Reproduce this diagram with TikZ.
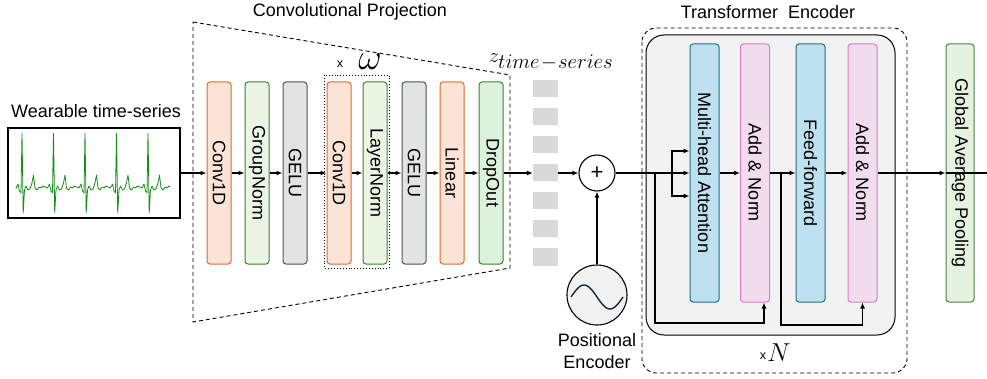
\documentclass[tikz,border=0pt]{standalone}
\usepackage{fontspec}
\setmainfont{Liberation Sans}
\usepackage{amsmath,amssymb}
\usetikzlibrary{arrows.meta,calc,shapes}
\definecolor{orfill}{HTML}{FBE3D6}
\definecolor{ordraw}{HTML}{E06A2C}
\definecolor{grfill}{HTML}{EAF5E4}
\definecolor{grdraw}{HTML}{3F7F32}
\definecolor{dofill}{HTML}{DDF2DA}
\definecolor{gyfill}{HTML}{E3E3E3}
\definecolor{gydraw}{HTML}{425F42}
\definecolor{blfill}{HTML}{BDE1EE}
\definecolor{bldraw}{HTML}{1F6F8B}
\definecolor{pkfill}{HTML}{F2DDEF}
\definecolor{pkdraw}{HTML}{D77CCD}
\definecolor{gapfill}{HTML}{E6F2E0}
\definecolor{gapdraw}{HTML}{4F7F4A}
\definecolor{tokgray}{HTML}{D9D9D9}
\definecolor{tfgray}{HTML}{F2F2F2}
\definecolor{ecggreen}{HTML}{1A8C1A}
\definecolor{wavenavy}{HTML}{0E2841}

\begin{document}
\begin{tikzpicture}[x=1pt,y=-1pt,
    >={Latex[length=6pt,width=5pt]},
    every node/.style={font=\fontsize{18}{22}\selectfont},
    block/.style={draw,rounded corners=3pt,minimum width=24pt,minimum height=182pt,inner sep=1pt,line width=1pt},
    convblk/.style={block,fill=orfill,draw=ordraw},
    normblk/.style={block,fill=grfill,draw=grdraw},
    gelublk/.style={block,fill=gyfill,draw=gydraw},
    tfblk/.style={block,minimum width=29pt,minimum height=258pt},
    token/.style={fill=tokgray,minimum width=25pt,minimum height=17pt,inner sep=0pt},
    link/.style={->,line width=1.2pt},
    frame/.style={line width=0.9pt,dash pattern=on 4pt off 3pt},
    ecg/.style={draw=ecggreen,line width=0.8pt,line join=round},
    small/.style={font=\fontsize{12.5}{14}\selectfont}]
  \useasboundingbox (0,0) rectangle (987,379);

  % input signal
  \node (sigtitle) at (96,111) {Wearable time-series};
  \node[draw,line width=1.6pt,minimum width=172pt,minimum height=90pt,inner sep=0pt] (sig) at (94,173) {};
  \draw[ecg] (17,188) \foreach \r in {22,53.5,85,116.5,148} {
      -- ({\r-6},188) -- ({\r-4},184) -- ({\r-2.5},191) -- ({\r-1},193) -- (\r,133) -- ({\r+1.2},213)
      -- ({\r+2.5},190) -- ({\r+4},186) -- ({\r+6},190) -- ({\r+8},189) -- ({\r+10},183) -- ({\r+11.5},175)
      -- ({\r+13},188) -- ({\r+15},190) -- ({\r+17},187) -- ({\r+19},188) -- ({\r+21},186)
    } -- (170,187);

  % convolutional projection
  \node (projtitle) at (350,12) {Convolutional Projection};
  \draw[frame] (193,22) -- (510,75) -- (510,268) -- (193,322) -- cycle;
  \draw[line width=0.9pt,dotted] (324,75) rectangle (389,268);
  \node[small] (wx) at (340,64.5) {x};
  \node[font=\fontsize{24.88}{26}\selectfont] (omega) at (370,62) {\scalebox{1.45}{$\omega$}};
  \node[convblk] (conv1) at (219,173) {\rotatebox{-90}{Conv1D}};
  \node[normblk] (gnorm) at (257,173) {\rotatebox{-90}{GroupNorm}};
  \node[gelublk] (gelu1) at (295,173) {\rotatebox{-90}{GELU}};
  \node[convblk] (conv2) at (339,173) {\rotatebox{-90}{Conv1D}};
  \node[normblk] (lnorm) at (375,173) {\rotatebox{-90}{LayerNorm}};
  \node[gelublk] (gelu2) at (414,173) {\rotatebox{-90}{GELU}};
  \node[convblk] (linear) at (452,173) {\rotatebox{-90}{Linear}};
  \node[normblk,fill=dofill] (dropout) at (491,173) {\rotatebox{-90}{DropOut}};
  \draw[link] (sig) -- (conv1);
  \foreach \a/\b in {conv1/gnorm,gnorm/gelu1,gelu1/conv2,conv2/lnorm,lnorm/gelu2,gelu2/linear,linear/dropout}
    \draw[link] (\a) -- (\b);

  % tokens and positional encoding
  \node[font=\fontsize{20.74}{21}\selectfont] (zlabel) at (551,62) {$z_{\textstyle time\!-\!series}$};
  \foreach \i in {1,...,7}
    \node[token] (tok\i) at (545.5,{173+28*(\i-4)}) {};
  \node[circle,draw,line width=1.1pt,minimum size=36pt,inner sep=0pt,font=\fontsize{22}{22}\selectfont] (add) at (597,173) {+};
  \node[circle,draw,line width=1.1pt,fill=tfgray,minimum size=60pt] (posenc) at (597,295) {};
  \draw[draw=wavenavy,line width=1.4pt] plot[domain=0:1,samples=40] ({571+52*\x},{297-12*sin(360*\x)});
  \node[align=center] (pelabel) at (597,351) {Positional\\Encoder};
  \draw[link] (dropout) -- (tok4);
  \draw[link] (tok4) -- (add);
  \draw[link] (posenc) -- (add);

  % transformer encoder
  \node (tftitle) at (768,12) {Transformer~~Encoder};
  \draw[frame,rounded corners=14pt] (642,28) rectangle (907,373);
  \draw[fill=tfgray,rounded corners=18pt,line width=1pt] (646,35) rectangle (895,335);
  \node[tfblk,fill=blfill,draw=bldraw] (mha) at (704.5,173) {\rotatebox{-90}{Multi-head Attention}};
  \node[tfblk,fill=pkfill,draw=pkdraw] (an1) at (755,173) {\rotatebox{-90}{Add \& Norm}};
  \node[tfblk,fill=blfill,draw=bldraw] (ff) at (810.5,173) {\rotatebox{-90}{Feed-forward}};
  \node[tfblk,fill=pkfill,draw=pkdraw] (an2) at (862.5,173) {\rotatebox{-90}{Add \& Norm}};
  \node[small] (nx) at (763,356) {x};
  \node[font=\fontsize{20.74}{21}\selectfont] (nrep) at (779,353) {\scalebox{1.25}{$N$}};
  \coordinate (res1) at (655,173);
  \coordinate (split) at (672,173);
  \coordinate (res2) at (781,173);
  \draw[line width=1.2pt] (add) -- (split);
  \draw[link] (split) -- (mha);
  \draw[link] (split) |- ([yshift=22pt]mha.west);
  \draw[link] (split) |- ([yshift=-23pt]mha.west);
  \draw[link] (res1) -- ++(0,150) -| ([xshift=9pt]an1.south);
  \draw[link] (mha) -- (an1);
  \draw[line width=1.2pt] (an1) -- (res2);
  \draw[link] (res2) -- (ff);
  \draw[link] (res2) -- ++(0,152) -| (an2.south);
  \draw[link] (ff) -- (an2);

  % pooling
  \node[tfblk,minimum width=28pt,fill=gapfill,draw=gapdraw] (gap) at (960,173) {\rotatebox{-90}{Global Average Pooling}};
  \coordinate (out) at (987,173);
  \draw[link] (an2) -- (gap);
  \draw[line width=1.2pt] (gap.west) -- (out);
\end{tikzpicture}
\end{document}
